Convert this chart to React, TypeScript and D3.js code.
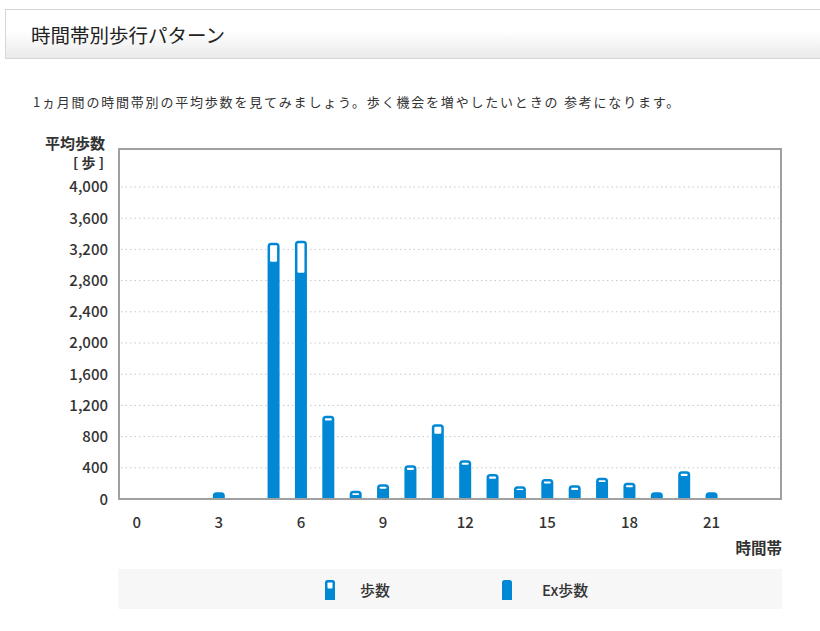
import * as d3 from 'd3';

// 時間帯 (0〜23時)
const HOURS = [0, 1, 2, 3, 4, 5, 6, 7, 8, 9, 10, 11, 12, 13, 14, 15, 16, 17, 18, 19, 20, 21, 22, 23];
// 平均歩数 (合計)
const STEPS = [0, 0, 0, 85, 0, 3286, 3311, 1068, 107, 188, 432, 957, 496, 320, 163, 256, 175, 273, 209, 86, 355, 86, 0, 0];
// Ex歩数
const EX_STEPS = [0, 0, 0, 85, 0, 3042, 2901, 1006, 51, 132, 372, 837, 440, 260, 115, 200, 115, 218, 150, 86, 295, 86, 0, 0];
const Y_TICKS = [0, 400, 800, 1200, 1600, 2000, 2400, 2800, 3200, 3600, 4000];
const X_TICKS = [0, 3, 6, 9, 12, 15, 18, 21];

const W = 820;
const H = 631;
const FRAME = { left: 119, right: 781, top: 149, bottom: 499 };
const BLUE = '#0088d4';
const TEXT = '#333';
const FONT = '"Noto Sans CJK JP", "Noto Sans", sans-serif';

// 上だけ角丸のバー
const roundTop = (x: number, y: number, w: number, h: number, r: number) => {
  const rr = Math.min(r, h, w / 2);
  return `M${x},${y + h}V${y + rr}Q${x},${y} ${x + rr},${y}H${x + w - rr}Q${x + w},${y} ${x + w},${y + rr}V${y + h}Z`;
};

export default function App() {
  const xScale = d3.scaleBand<number>().domain(HOURS).range([123, 780]);
  const yScale = d3.scaleLinear().domain([0, 4487]).range([FRAME.bottom, FRAME.top]);
  const barW = 12;
  const fmt = d3.format(',');

  return (
    <div style={{ position: 'absolute', left: 0, top: 0 }}>
      <svg width={W} height={H} style={{ display: 'block', fontFamily: FONT }}>
        <defs>
          <linearGradient id="hdr" x1="0" y1="0" x2="0" y2="1">
            <stop offset="0" stopColor="#ffffff" />
            <stop offset="0.45" stopColor="#ffffff" />
            <stop offset="1" stopColor="#e9e9e9" />
          </linearGradient>
        </defs>
        <rect x={0} y={0} width={W} height={H} fill="#fff" />

        {/* 見出し */}
        <rect x={5.5} y={9.5} width={830} height={49} fill="url(#hdr)" stroke="#d6d6d6" />
        <text x={31} y={43} fontSize={19.5} fill="#222">時間帯別歩行パターン</text>

        <text x={33} y={107} fontSize={13} letterSpacing={1.8} fill={TEXT}>
          1ヵ月間の時間帯別の平均歩数を見てみましょう。歩く機会を増やしたいときの 参考になります。
        </text>

        {/* 軸タイトル */}
        <text x={105} y={149} fontSize={15} fontWeight={600} fill={TEXT} textAnchor="end">平均歩数</text>
        <text x={104} y={168} fontSize={14} fontWeight={600} fill={TEXT} textAnchor="end">[ 歩 ]</text>

        {/* グリッド */}
        {Y_TICKS.filter(t => t > 0).map(t => (
          <line key={t} x1={FRAME.left + 2} x2={FRAME.right - 2} y1={yScale(t)} y2={yScale(t)}
            stroke="#c8c8c8" strokeWidth={1} strokeDasharray="1.5,3" />
        ))}
        {Y_TICKS.map(t => (
          <text key={t} x={108} y={yScale(t) + 5.5} fontSize={15} fontWeight={500} fill={TEXT} textAnchor="end">
            {fmt(t)}
          </text>
        ))}

        {/* 枠 */}
        <rect x={FRAME.left} y={FRAME.top} width={FRAME.right - FRAME.left} height={FRAME.bottom - FRAME.top}
          fill="none" stroke="#a0a0a0" strokeWidth={2} />

        {/* バー */}
        {HOURS.map((h, i) => {
          const total = STEPS[i];
          if (total <= 0) return null;
          const x = xScale(h)! + xScale.bandwidth() / 2 - barW / 2;
          const yTop = yScale(total);
          const yEx = yScale(EX_STEPS[i]);
          const whiteH = yEx - (yTop + 2.5);
          return (
            <g key={h}>
              <path d={roundTop(x, yTop, barW, FRAME.bottom - 1 - yTop, 3.5)} fill={BLUE} />
              {whiteH > 0.5 && (
                <rect x={x + 2.5} y={yTop + 2.5} width={barW - 5} height={whiteH} rx={1} fill="#fff" />
              )}
            </g>
          );
        })}

        {/* X軸ラベル */}
        {X_TICKS.map(t => (
          <text key={t} x={xScale(t)! + xScale.bandwidth() / 2} y={528} fontSize={15} fontWeight={500}
            fill={TEXT} textAnchor="middle">{t}</text>
        ))}
        <text x={782} y={554} fontSize={15.5} fontWeight={600} fill={TEXT} textAnchor="end">時間帯</text>

        {/* 凡例 */}
        <rect x={118} y={569} width={664} height={40} fill="#f7f7f7" />
        <path d={roundTop(325, 580, 10, 20, 2.5)} fill={BLUE} />
        <rect x={327.5} y={582.5} width={5} height={6} rx={0.8} fill="#fff" />
        <text x={360} y={596} fontSize={15} fontWeight={500} fill={TEXT}>歩数</text>
        <path d={roundTop(502, 580, 10, 20, 2.5)} fill={BLUE} />
        <text x={542} y={596} fontSize={15} fontWeight={500} fill={TEXT}>Ex歩数</text>
      </svg>
    </div>
  );
}
